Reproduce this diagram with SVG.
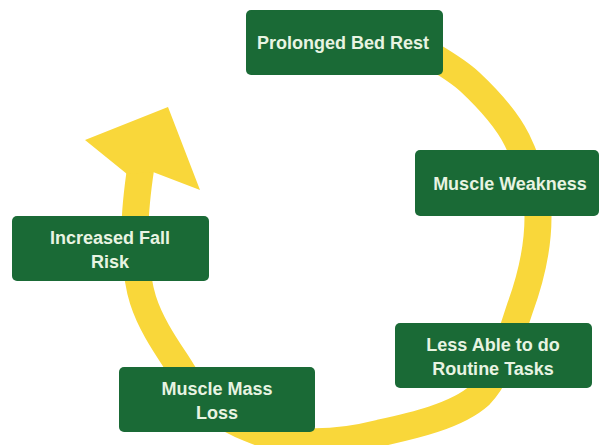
<svg xmlns="http://www.w3.org/2000/svg" width="601" height="445" viewBox="0 0 601 445">
<style>
.box{fill:#1a6a36;}
.lbl{font-family:"Liberation Sans",Arial,sans-serif;font-weight:bold;font-size:18px;fill:#e8f4e2;text-anchor:middle;}
.ring{fill:none;stroke:#f9d73a;stroke-width:27;stroke-linecap:butt;}
.head{fill:#f9d73a;}
</style>
<rect width="601" height="445" fill="#ffffff"/>
<g id="connectors">
<path class="ring" d="M420,48 C428,54 454,67 470,82 C486,97 506,118 517,140 C528,163 538,190 538,217 C538,245 531,278 520,308 C510,338 500,374 480,395 C457,416 412,426 380,433 C348,441 318,444 290,440 C262,436 234,423 215,410 C196,397 187,378 175,360 C163,342 150,322 143,300 C136,278 135,252 135,230 C135,208 138,186 141,166"/>
<polygon class="head" points="168,107 200,190 153,172 127,174 85,140"/>
</g>
<g id="node-prolonged-bed-rest">
<rect class="box" x="246" y="10" width="197" height="65" rx="5"/>
<text class="lbl" x="343" y="49">Prolonged Bed Rest</text>
</g>
<g id="node-muscle-weakness">
<rect class="box" x="415" y="150" width="184" height="66" rx="5"/>
<text class="lbl" x="510" y="190">Muscle Weakness</text>
</g>
<g id="node-less-able">
<rect class="box" x="395" y="323" width="197" height="65" rx="5"/>
<text class="lbl" x="493" y="351">Less Able to do</text>
<text class="lbl" x="493" y="375">Routine Tasks</text>
</g>
<g id="node-muscle-mass-loss">
<rect class="box" x="119" y="367" width="196" height="65" rx="5"/>
<text class="lbl" x="217" y="395">Muscle Mass</text>
<text class="lbl" x="217" y="419">Loss</text>
</g>
<g id="node-increased-fall-risk">
<rect class="box" x="12" y="216" width="197" height="65" rx="5"/>
<text class="lbl" x="110" y="244">Increased Fall</text>
<text class="lbl" x="110" y="268">Risk</text>
</g>
</svg>
